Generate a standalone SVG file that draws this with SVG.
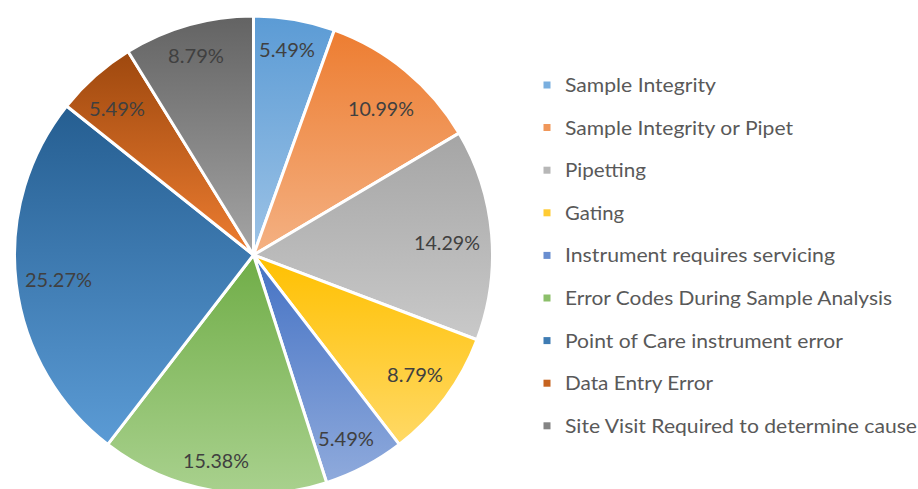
<svg xmlns="http://www.w3.org/2000/svg" width="918" height="489" viewBox="0 0 918 489">
<style>
.slice{stroke:#ffffff;stroke-width:3;stroke-linejoin:round}
.lbl{font-family:Lato,"Liberation Sans",sans-serif;font-size:20px;fill:#404040}
.leg{font-family:Lato,"Liberation Sans",sans-serif;font-size:20px;fill:#595959}
</style>
<defs>
<linearGradient id="g1" x1="0" y1="0" x2="0" y2="1"><stop offset="0" stop-color="#5B9BD5"/><stop offset="1" stop-color="#9DC3E6"/></linearGradient>
<linearGradient id="g2" x1="0" y1="0" x2="0" y2="1"><stop offset="0" stop-color="#ED7D31"/><stop offset="1" stop-color="#F4B183"/></linearGradient>
<linearGradient id="g3" x1="0" y1="0" x2="0" y2="1"><stop offset="0" stop-color="#A5A5A5"/><stop offset="1" stop-color="#C9C9C9"/></linearGradient>
<linearGradient id="g4" x1="0" y1="0" x2="0" y2="1"><stop offset="0" stop-color="#FFC000"/><stop offset="1" stop-color="#FFD966"/></linearGradient>
<linearGradient id="g5" x1="0" y1="0" x2="0" y2="1"><stop offset="0" stop-color="#4472C4"/><stop offset="1" stop-color="#8FAADC"/></linearGradient>
<linearGradient id="g6" x1="0" y1="0" x2="0" y2="1"><stop offset="0" stop-color="#70AD47"/><stop offset="1" stop-color="#A9D18E"/></linearGradient>
<linearGradient id="g7" x1="0" y1="0" x2="0" y2="1"><stop offset="0" stop-color="#255E91"/><stop offset="1" stop-color="#5B9BD5"/></linearGradient>
<linearGradient id="g8" x1="0" y1="0" x2="0" y2="1"><stop offset="0" stop-color="#9E480E"/><stop offset="1" stop-color="#ED7D31"/></linearGradient>
<linearGradient id="g9" x1="0" y1="0" x2="0" y2="1"><stop offset="0" stop-color="#636363"/><stop offset="1" stop-color="#A5A5A5"/></linearGradient>
</defs>
<rect width="918" height="489" fill="#ffffff"/>
<g id="pie">
<g id="slice-sample-integrity">
<path class="slice" fill="url(#g1)" d="M253.5,255 L253.5,16 A239,239 0 0 1 334.39,30.11 Z"/>
<text class="lbl" x="259" y="57" textLength="56" lengthAdjust="spacingAndGlyphs">5.49%</text>
</g>
<g id="slice-sample-integrity-or-pipet">
<path class="slice" fill="url(#g2)" d="M253.5,255 L334.39,30.11 A239,239 0 0 1 459.11,133.16 Z"/>
<text class="lbl" x="348" y="116" textLength="66" lengthAdjust="spacingAndGlyphs">10.99%</text>
</g>
<g id="slice-pipetting">
<path class="slice" fill="url(#g3)" d="M253.5,255 L459.11,133.16 A239,239 0 0 1 476.97,339.75 Z"/>
<text class="lbl" x="414" y="250" textLength="66" lengthAdjust="spacingAndGlyphs">14.29%</text>
</g>
<g id="slice-gating">
<path class="slice" fill="url(#g4)" d="M253.5,255 L476.97,339.75 A239,239 0 0 1 399.24,444.43 Z"/>
<text class="lbl" x="387" y="382" textLength="56" lengthAdjust="spacingAndGlyphs">8.79%</text>
</g>
<g id="slice-instrument-servicing">
<path class="slice" fill="url(#g5)" d="M253.5,255 L399.24,444.43 A239,239 0 0 1 326.57,482.56 Z"/>
<text class="lbl" x="318" y="446" textLength="56" lengthAdjust="spacingAndGlyphs">5.49%</text>
</g>
<g id="slice-error-codes">
<path class="slice" fill="url(#g6)" d="M253.5,255 L326.57,482.56 A239,239 0 0 1 107.76,444.43 Z"/>
<text class="lbl" x="183" y="468" textLength="66" lengthAdjust="spacingAndGlyphs">15.38%</text>
</g>
<g id="slice-point-of-care">
<path class="slice" fill="url(#g7)" d="M253.5,255 L107.76,444.43 A239,239 0 0 1 66.64,105.99 Z"/>
<text class="lbl" x="25" y="287" textLength="67" lengthAdjust="spacingAndGlyphs">25.27%</text>
</g>
<g id="slice-data-entry">
<path class="slice" fill="url(#g8)" d="M253.5,255 L66.64,105.99 A239,239 0 0 1 128.11,51.54 Z"/>
<text class="lbl" x="89" y="116" textLength="56" lengthAdjust="spacingAndGlyphs">5.49%</text>
</g>
<g id="slice-site-visit">
<path class="slice" fill="url(#g9)" d="M253.5,255 L128.11,51.54 A239,239 0 0 1 253.5,16 Z"/>
<text class="lbl" x="168" y="63" textLength="56" lengthAdjust="spacingAndGlyphs">8.79%</text>
</g>
</g>
<g id="legend">
<g id="leg1"><rect x="543.5" y="81.5" width="7" height="7" fill="#7AAFDF"/><text class="leg" x="565" y="92" textLength="151" lengthAdjust="spacingAndGlyphs">Sample Integrity</text></g>
<g id="leg2"><rect x="543.5" y="124" width="7" height="7" fill="#F0975A"/><text class="leg" x="565" y="134.6" textLength="228" lengthAdjust="spacingAndGlyphs">Sample Integrity or Pipet</text></g>
<g id="leg3"><rect x="543.5" y="166.7" width="7" height="7" fill="#B7B7B7"/><text class="leg" x="565" y="177.2" textLength="81" lengthAdjust="spacingAndGlyphs">Pipetting</text></g>
<g id="leg4"><rect x="543.5" y="209.3" width="7" height="7" fill="#FFCB33"/><text class="leg" x="565" y="219.8" textLength="59" lengthAdjust="spacingAndGlyphs">Gating</text></g>
<g id="leg5"><rect x="543.5" y="251.9" width="7" height="7" fill="#698ED0"/><text class="leg" x="565" y="262.4" textLength="270" lengthAdjust="spacingAndGlyphs">Instrument requires servicing</text></g>
<g id="leg6"><rect x="543.5" y="294.5" width="7" height="7" fill="#8CBF6A"/><text class="leg" x="565" y="305" textLength="327" lengthAdjust="spacingAndGlyphs">Error Codes During Sample Analysis</text></g>
<g id="leg7"><rect x="543.5" y="337.1" width="7" height="7" fill="#3F7CB3"/><text class="leg" x="565" y="347.6" textLength="278" lengthAdjust="spacingAndGlyphs">Point of Care instrument error</text></g>
<g id="leg8"><rect x="543.5" y="379.7" width="7" height="7" fill="#C6631F"/><text class="leg" x="565" y="390.2" textLength="148" lengthAdjust="spacingAndGlyphs">Data Entry Error</text></g>
<g id="leg9"><rect x="543.5" y="422.3" width="7" height="7" fill="#848484"/><text class="leg" x="565" y="432.8" textLength="352" lengthAdjust="spacingAndGlyphs">Site Visit Required to determine cause</text></g>
</g>
</svg>
